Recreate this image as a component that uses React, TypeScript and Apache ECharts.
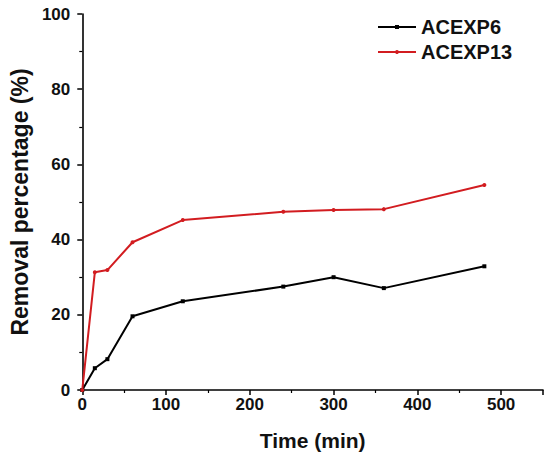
import React, { useEffect, useRef } from "react";
import * as echarts from "echarts";

const timeMin = [0, 15, 30, 60, 120, 240, 300, 360, 480];
const acexp6 = [0, 5.8, 8.2, 19.6, 23.6, 27.5, 30.0, 27.1, 32.9];
const acexp13 = [0, 31.3, 31.9, 39.3, 45.2, 47.4, 47.9, 48.1, 54.5];
const seriesNames = ["ACEXP6", "ACEXP13"];
const seriesColors = ["#000000", "#d21c20"];

const FONT = "Liberation Sans, Arial, sans-serif";

export default function App() {
  const ref = useRef<HTMLDivElement>(null);
  useEffect(() => {
    document.body.style.margin = "0";
    if (!ref.current) return;
    const chart = echarts.init(ref.current, undefined, { renderer: "svg" });
    const axisCommon = {
      axisLine: { show: true, lineStyle: { color: "#000", width: 1.6 } },
      axisTick: { show: true, inside: false, length: 5, lineStyle: { color: "#000", width: 1.5 } },
      minorTick: { show: true, splitNumber: 2, length: 3, lineStyle: { color: "#000", width: 1.2 } },
      splitLine: { show: false },
      axisLabel: { color: "#111", fontFamily: FONT, fontWeight: "bold", fontSize: 17 },
    };
    chart.setOption({
      animation: false,
      backgroundColor: "#fff",
      grid: { left: 81, right: 7, top: 14, bottom: 73, containLabel: false },
      legend: {
        orient: "vertical",
        left: 372,
        top: 12,
        itemWidth: 38,
        itemHeight: 5,
        itemGap: 5,
        textStyle: { color: "#111", fontFamily: FONT, fontWeight: "bold", fontSize: 20, lineHeight: 20 },
        data: seriesNames,
      },
      xAxis: {
        type: "value",
        min: 0,
        max: 550,
        interval: 100,
        name: "Time (min)",
        nameLocation: "middle",
        nameGap: 40,
        nameTextStyle: { color: "#111", fontFamily: FONT, fontWeight: "bold", fontSize: 21 },
        ...axisCommon,
        axisLabel: { ...axisCommon.axisLabel, margin: 6, showMaxLabel: false },
      },
      yAxis: {
        type: "value",
        min: 0,
        max: 100,
        interval: 20,
        name: "Removal percentage (%)",
        nameLocation: "middle",
        nameGap: 50,
        nameTextStyle: { color: "#111", fontFamily: FONT, fontWeight: "bold", fontSize: 23 },
        ...axisCommon,
        axisLabel: { ...axisCommon.axisLabel, margin: 12 },
      },
      series: [
        {
          name: seriesNames[0],
          type: "line",
          data: timeMin.map((t, i) => [t, acexp6[i]]),
          symbol: "rect",
          symbolSize: 4,
          color: seriesColors[0],
          lineStyle: { width: 2, color: seriesColors[0] },
          itemStyle: { color: seriesColors[0] },
        },
        {
          name: seriesNames[1],
          type: "line",
          data: timeMin.map((t, i) => [t, acexp13[i]]),
          symbol: "circle",
          symbolSize: 4,
          color: seriesColors[1],
          lineStyle: { width: 2, color: seriesColors[1] },
          itemStyle: { color: seriesColors[1] },
        },
      ],
    });
    return () => chart.dispose();
  }, []);
  return <div ref={ref} style={{ width: 550, height: 463 }} />;
}
